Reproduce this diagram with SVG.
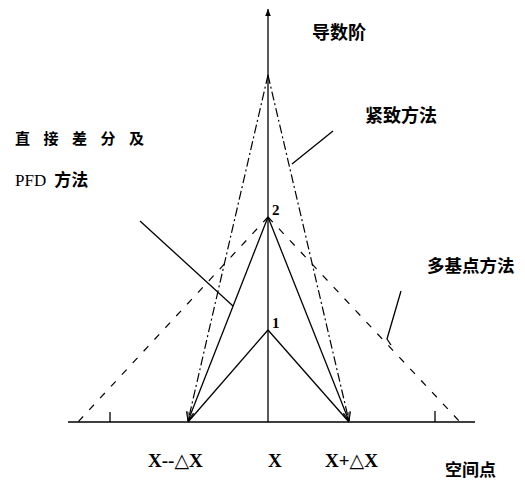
<svg xmlns="http://www.w3.org/2000/svg" width="525" height="486" viewBox="0 0 525 486">
<defs>
<style>
.ln{stroke:#000;fill:none;stroke-width:1.3}
.dd{stroke:#000;fill:none;stroke-width:1.2;stroke-dasharray:9 3 2 3}
.ds{stroke:#000;fill:none;stroke-width:1.2;stroke-dasharray:7 9}
.cjk{font-family:"Noto Sans CJK SC","Noto Sans",sans-serif;fill:#000;font-weight:bold}
.ser{font-family:"Liberation Serif","DejaVu Serif",serif;fill:#000}
</style>
<marker id="va" viewBox="0 0 10 10" refX="10" refY="5" markerWidth="9" markerHeight="9" orient="auto" markerUnits="userSpaceOnUse">
<path d="M0,1 L10,5 L0,9" fill="none" stroke="#000" stroke-width="1.2"/>
</marker>
<marker id="fa" viewBox="0 0 10 10" refX="10" refY="5" markerWidth="14" markerHeight="7" orient="auto" markerUnits="userSpaceOnUse">
<path d="M0,1 L10,5 L0,9 Z" fill="#000"/>
</marker>
</defs>
<rect width="525" height="486" fill="#fff"/>
<g id="axes">
<line class="ln" x1="68" y1="422" x2="475" y2="422" stroke-width="2"/>
<line class="ln" x1="268" y1="422" x2="268" y2="9" marker-end="url(#fa)"/>
<line class="ln" x1="110" y1="412" x2="110" y2="422"/>
<line class="ln" x1="435" y1="411" x2="435" y2="422"/>
</g>
<g id="connectors">
<line class="ds" x1="268" y1="217" x2="78" y2="422"/>
<line class="ds" x1="268" y1="217" x2="460" y2="422"/>
<line class="dd" x1="268" y1="75" x2="188" y2="421" marker-end="url(#va)"/>
<line class="dd" x1="268" y1="75" x2="349" y2="421" marker-end="url(#va)"/>
<line class="ln" x1="268" y1="217" x2="188" y2="421" marker-end="url(#va)"/>
<line class="ln" x1="268" y1="217" x2="349" y2="421" marker-end="url(#va)"/>
<line class="ln" x1="268" y1="330" x2="188" y2="422"/>
<line class="ln" x1="268" y1="330" x2="349" y2="422"/>
<line class="ln" x1="140" y1="221" x2="233" y2="306"/>
<line class="ln" x1="333" y1="131" x2="292" y2="164"/>
<polyline class="ln" points="401,291 387,339 391,345"/>
</g>
<g id="point-2"><text class="ser" x="272" y="215" font-size="15" font-weight="bold">2</text></g>
<g id="point-1"><text class="ser" x="272" y="328" font-size="15" font-weight="bold">1</text></g>
<g id="label-order"><text class="cjk" x="312" y="39" font-size="18">导数阶</text></g>
<g id="label-compact"><text class="cjk" x="365" y="122" font-size="18">紧致方法</text></g>
<g id="label-direct">
<text class="cjk" x="15" y="144" font-size="15" letter-spacing="13.5">直接差分及</text>
<text x="15" y="186"><tspan class="ser" font-size="17">PFD</tspan><tspan class="cjk" font-size="17" dx="8">方法</tspan></text>
</g>
<g id="label-multi"><text class="cjk" x="427" y="272" font-size="17.5">多基点方法</text></g>
<g id="xlabels">
<text class="ser" x="148" y="467" font-size="19" font-weight="bold">X--△X</text>
<text class="ser" x="268" y="467" font-size="19" font-weight="bold">X</text>
<text class="ser" x="325" y="467" font-size="19" font-weight="bold">X+△X</text>
</g>
<g id="label-space"><text class="cjk" x="445" y="476" font-size="17">空间点</text></g>
</svg>
